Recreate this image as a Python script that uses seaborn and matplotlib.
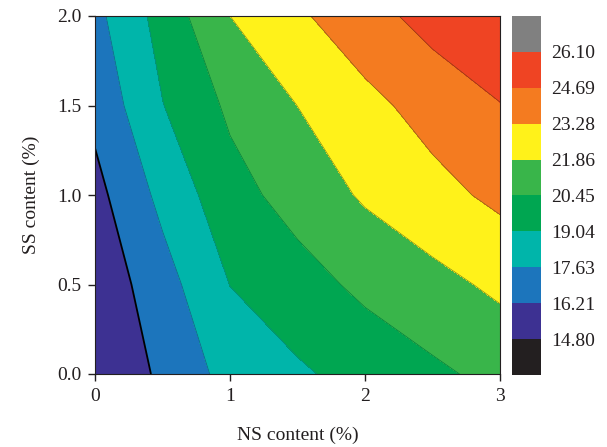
import numpy as np
import matplotlib
matplotlib.use("Agg")
import matplotlib.pyplot as plt
from matplotlib.colors import ListedColormap, BoundaryNorm
import seaborn as sns

# Data grid
ns = [0.0, 0.5, 1.0, 1.5, 2.0, 2.5, 3.0]          # NS content (%)
ss = [0.0, 0.5, 1.0, 1.5, 2.0]                     # SS content (%)
z_ss00 = [14.95, 16.47, 18.13, 18.84, 19.54, 20.19, 20.84]
z_ss05 = [15.20, 17.07, 19.06, 19.90, 20.76, 21.43, 22.14]
z_ss10 = [15.78, 18.01, 19.95, 20.99, 22.04, 22.83, 23.60]
z_ss15 = [16.60, 19.00, 20.70, 21.87, 22.89, 23.82, 24.65]
z_ss20 = [17.25, 19.57, 21.86, 23.06, 24.17, 25.20, 25.70]

levels = [14.80, 16.21, 17.63, 19.04, 20.45, 21.86, 23.28, 24.69, 26.10]
level_labels = ["14.80", "16.21", "17.63", "19.04", "20.45", "21.86", "23.28", "24.69", "26.10"]

band_colors = ["#3D3192", "#1C75BC", "#00B5AA", "#00A651", "#39B54A",
               "#FFF21A", "#F47B20", "#EF4423"]
under_color = "#231F20"
over_color = "#808080"

sns.set_style("ticks")
plt.rcParams['font.family'] = ['Liberation Serif', 'DejaVu Serif']

Z = np.array([z_ss00, z_ss05, z_ss10, z_ss15, z_ss20])
X, Y = np.meshgrid(ns, ss)

cmap = ListedColormap(band_colors)
cmap.set_under(under_color)
cmap.set_over(over_color)
norm = BoundaryNorm(levels, cmap.N)

fig = plt.figure(figsize=(6.07, 4.47), dpi=100)
ax = fig.add_axes([95/607, 73/447, 405/607, 358/447])
cax = fig.add_axes([512/607, 72/447, 29/607, 359/447])

cf = ax.contourf(X, Y, Z, levels=levels, cmap=cmap, norm=norm, extend='both')
line_colors = ["#222222", "black", "#1a5a8a", "#008a8a", "#00803f", "#7a8a20",
               "#8a6a10", "#8a3a10", "#555555"]
line_widths = [0.5, 1.3, 0.5, 0.5, 0.5, 0.5, 0.5, 0.5, 0.5]
ax.contour(X, Y, Z, levels=levels, colors=line_colors, linewidths=line_widths)

ax.set_xlim(0, 3)
ax.set_ylim(0, 2)
ax.set_xticks([0, 1, 2, 3])
ax.set_xticklabels(["0", "1", "2", "3"])
ax.set_yticks([0, 0.5, 1.0, 1.5, 2.0])
ax.set_yticklabels(["0.0", "0.5", "1.0", "1.5", "2.0"])
ax.tick_params(axis='both', direction='out', length=5, width=1, labelsize=14,
               colors='#231F20', pad=5)
for sp in ax.spines.values():
    sp.set_linewidth(0.8)
    sp.set_color('#231F20')
ax.set_xlabel("NS content (%)", fontsize=14, labelpad=16, color='#231F20')
ax.set_ylabel("SS content (%)", fontsize=14, labelpad=12, color='#231F20')

cb = fig.colorbar(cf, cax=cax, extend='both', extendrect=True, extendfrac='auto',
                  ticks=levels, drawedges=False)
cb.set_ticklabels(level_labels)
cb.outline.set_visible(False)
cb.ax.tick_params(length=0, labelsize=14, pad=7, colors='#231F20')

fig.savefig("out.png", dpi=100)
